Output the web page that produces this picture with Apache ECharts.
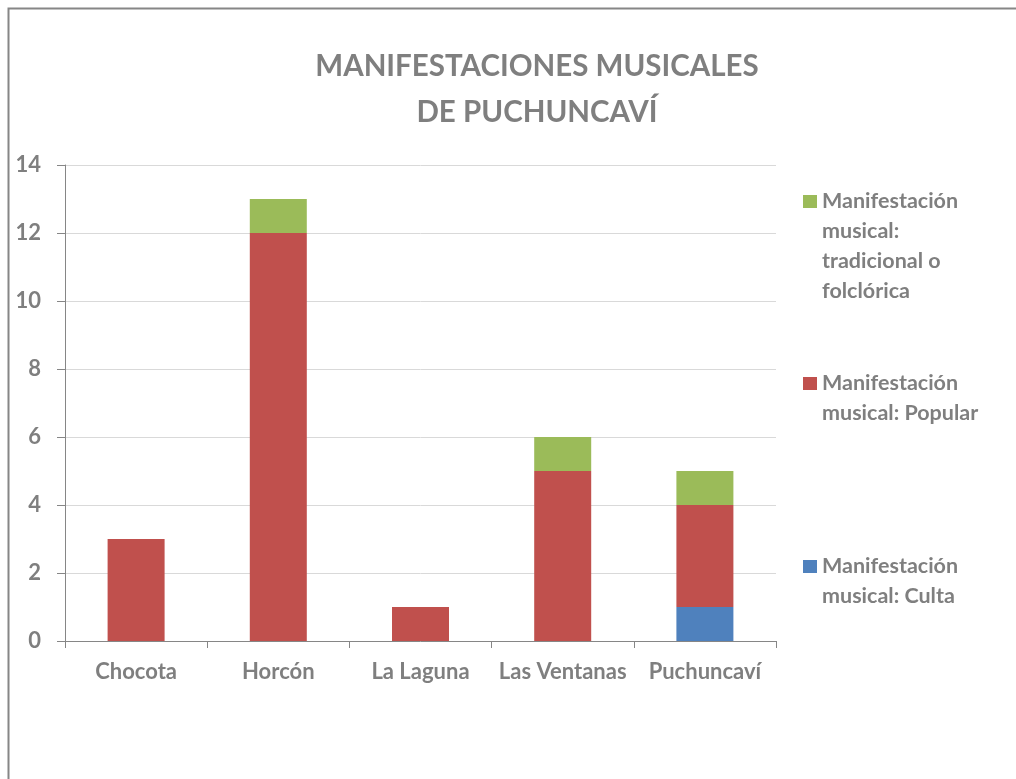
<!DOCTYPE html>
<html>
<head>
<meta charset="utf-8">
<script src="https://cdn.jsdelivr.net/npm/echarts@6/dist/echarts.min.js"></script>
<style>
  html, body { margin: 0; padding: 0; background: #fff; }
  #chart { width: 1016px; height: 779px; }
</style>
</head>
<body>
<div id="chart"></div>
<script>
// datos
const categories = ['Chocota', 'Horcón', 'La Laguna', 'Las Ventanas', 'Puchuncaví']
const culta = [0, 0, 0, 0, 1]
const popular = [3, 12, 1, 5, 3]
const tradicional = [0, 1, 0, 1, 1]
const yTicks = [0, 2, 4, 6, 8, 10, 12, 14]

const nameTrad = 'Manifestación musical: tradicional o folclórica'
const namePop = 'Manifestación musical: Popular'
const nameCulta = 'Manifestación musical: Culta'

const gray = '#7f7f7f'
const font = 'Lato'
const LH = 30

const chart = echarts.init(document.getElementById('chart'))

// leyenda: una por serie; se anteponen líneas vacías para que el icono
// quede a la altura de la primera línea del texto
function legendFor(name, lines, iconTop) {
  const n = 2 * lines.length - 1
  const label = new Array(lines.length - 1).fill('').concat(lines).join('\n')
  return {
    data: [name],
    left: 803,
    top: iconTop + 6.5 - (n * LH) / 2,
    padding: 0,
    itemWidth: 14,
    itemHeight: 13,
    icon: 'rect',
    formatter: () => label,
    textStyle: {
      color: gray, fontFamily: font, fontWeight: 'bold', fontSize: 21.5, lineHeight: LH
    }
  }
}

const option = {
  animation: false,
  textStyle: { fontFamily: font },
  title: {
    text: 'MANIFESTACIONES MUSICALES\nDE PUCHUNCAVÍ',
    left: 537,
    top: 43,
    padding: 0,
    textAlign: 'center',
    textStyle: { color: gray, fontFamily: font, fontWeight: 'bold', fontSize: 29.5, lineHeight: 46 }
  },
  legend: [
    legendFor(nameTrad, ['Manifestación', 'musical:', 'tradicional o', 'folclórica'], 195),
    legendFor(namePop, ['Manifestación', 'musical: Popular'], 377),
    legendFor(nameCulta, ['Manifestación', 'musical: Culta'], 560)
  ],
  grid: { left: 65, right: 240, top: 165, bottom: 138, containLabel: false },
  xAxis: {
    type: 'category',
    data: categories,
    axisLine: { lineStyle: { color: '#868686', width: 1 } },
    axisTick: { show: true, length: 7, lineStyle: { color: '#868686' } },
    axisLabel: { interval: 0, color: gray, fontFamily: font, fontWeight: 'bold', fontSize: 22, margin: 20 }
  },
  yAxis: {
    type: 'value',
    min: 0,
    max: 14,
    interval: 2,
    axisLine: { show: true, lineStyle: { color: '#868686', width: 1 } },
    axisTick: { show: true, length: 8, lineStyle: { color: '#868686' } },
    axisLabel: {
      color: gray, fontFamily: font, fontWeight: 'bold', fontSize: 22, margin: 24,
      formatter: v => (yTicks.includes(v) ? String(v) : '')
    },
    splitLine: { lineStyle: { color: '#d9d9d9', width: 1 } }
  },
  series: [
    { name: nameCulta, type: 'bar', stack: 'total', barWidth: 57, data: culta, itemStyle: { color: '#4f81bd' } },
    { name: namePop, type: 'bar', stack: 'total', barWidth: 57, data: popular, itemStyle: { color: '#c0504d' } },
    { name: nameTrad, type: 'bar', stack: 'total', barWidth: 57, data: tradicional, itemStyle: { color: '#9bbb59' } }
  ],
  graphic: [
    {
      type: 'rect',
      silent: true,
      z: -10,
      shape: { x: 8.5, y: 8.5, width: 1100, height: 900 },
      style: { fill: 'none', stroke: '#868686', lineWidth: 2 }
    }
  ]
}

chart.setOption(option)
</script>
</body>
</html>
